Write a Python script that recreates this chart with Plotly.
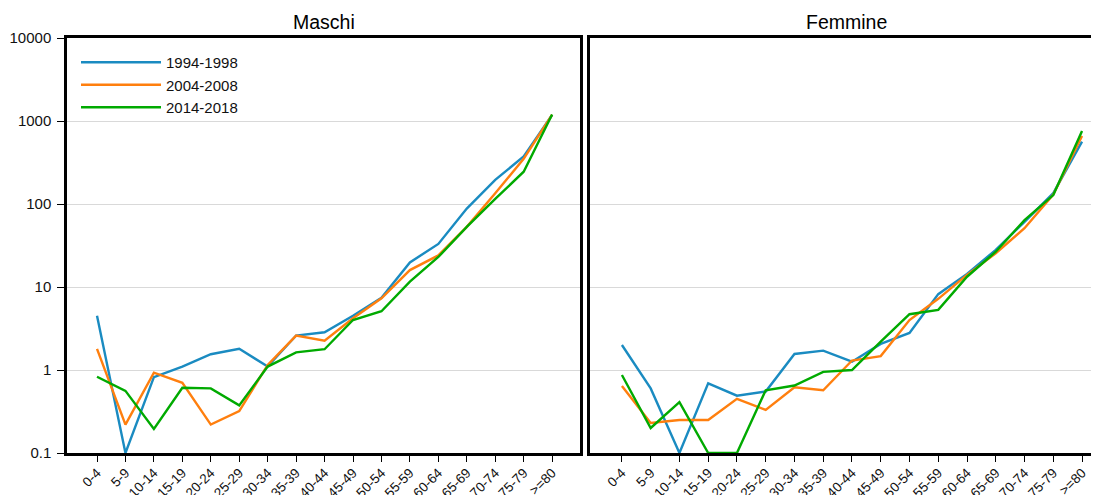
import plotly.graph_objects as go

age_groups = ["0-4", "5-9", "10-14", "15-19", "20-24", "25-29", "30-34", "35-39",
              "40-44", "45-49", "50-54", "55-59", "60-64", "65-69", "70-74", "75-79", ">=80"]
periods = ["1994-1998", "2004-2008", "2014-2018"]
colors = ["#1a8bc1", "#ff7f0e", "#00aa00"]

maschi_1994 = [4.5, 0.1, 0.82, 1.1, 1.55, 1.8, 1.1, 2.6, 2.85, 4.5, 7.4, 19.8, 33, 88, 195, 375, 1180]
maschi_2004 = [1.8, 0.22, 0.93, 0.70, 0.22, 0.32, 1.15, 2.6, 2.25, 4.2, 7.3, 16, 24, 53, 135, 350, 1190]
maschi_2014 = [0.83, 0.56, 0.195, 0.61, 0.60, 0.375, 1.1, 1.63, 1.78, 4.0, 5.1, 11.6, 23, 53, 115, 245, 1200]

femmine_1994 = [2.0, 0.6, 0.1, 0.69, 0.49, 0.55, 1.56, 1.71, 1.26, 2.06, 2.8, 8.2, 14.4, 28, 61, 135, 565]
femmine_2004 = [0.64, 0.23, 0.25, 0.25, 0.45, 0.33, 0.62, 0.57, 1.3, 1.47, 4.0, 7.2, 14, 25.5, 51, 130, 660]
femmine_2014 = [0.87, 0.2, 0.41, 0.1, 0.1, 0.57, 0.65, 0.95, 1.0, 2.2, 4.7, 5.3, 13.3, 26.6, 64, 128, 760]

y_tickvals = [0.1, 1, 10, 100, 1000, 10000]
y_ticktext = ["0.1", "1", "10", "100", "1000", "10000"]

FONT = "Liberation Sans, Arial, sans-serif"

fig = go.Figure()
xs = list(range(len(age_groups)))
for name, col, ym, yf in zip(periods, colors,
                             [maschi_1994, maschi_2004, maschi_2014],
                             [femmine_1994, femmine_2004, femmine_2014]):
    fig.add_trace(go.Scatter(x=xs, y=ym, mode="lines", name=name,
                             line=dict(color=col, width=2.4), xaxis="x", yaxis="y"))
    fig.add_trace(go.Scatter(x=xs, y=yf, mode="lines", name=name, showlegend=False,
                             line=dict(color=col, width=2.4), xaxis="x2", yaxis="y2"))

# page body has an 8px margin: figure is placed at (8, 8) in the window
OFF = 8
W, H = 1099 - OFF, 495 - OFF
L1, R1, L2, R2 = 67 - OFF, 580 - OFF, 590 - OFF, 1099 - OFF
TOP, BOT = 38 - OFF, 453 - OFF

xcommon = dict(tickmode="array", tickvals=xs, ticktext=age_groups, tickangle=-45,
               showline=True, linecolor="black", linewidth=2.5, mirror=True,
               ticks="outside", ticklen=6, tickcolor="black", tickwidth=1,
               showgrid=False, zeroline=False, automargin=False, ticklabelstandoff=-2,
               tickfont=dict(family=FONT, size=13.5, color="#111"))
ycommon = dict(type="log", range=[-1, 4], tickmode="array", tickvals=y_tickvals,
               showgrid=True, gridcolor="#d9d9d9", gridwidth=1, zeroline=False,
               showline=True, linecolor="black", linewidth=2.5, automargin=False,
               domain=[(H - BOT) / H, (H - TOP) / H])

fig.update_layout(
    template="none",
    width=W, height=H,
    margin=dict(l=0, r=0, t=0, b=0),
    paper_bgcolor="white", plot_bgcolor="white",
    font=dict(family=FONT, size=15, color="#111"),
    xaxis=dict(domain=[L1 / W, R1 / W], range=[-1.055, 16.98], anchor="y", **xcommon),
    xaxis2=dict(domain=[L2 / W, R2 / W], range=[-1.11, 16.59], anchor="y2", **xcommon),
    yaxis=dict(anchor="x", ticktext=y_ticktext, ticks="outside", ticklen=7,
               tickcolor="black", mirror=True, ticklabelstandoff=3,
               tickfont=dict(family=FONT, size=15, color="#111"), **ycommon),
    yaxis2=dict(anchor="x2", showticklabels=False, ticks="", mirror=False, **ycommon),
    legend=dict(x=(L1 + 9) / W, y=(H - TOP - 8) / H, xanchor="left", yanchor="top",
                bgcolor="rgba(0,0,0,0)", borderwidth=0,
                font=dict(family=FONT, size=15, color="#111"),
                itemwidth=80, tracegroupgap=0),
    showlegend=True,
    annotations=[
        dict(text="Maschi", x=(L1 + R1) / 2 / W, y=(H - TOP) / H, xref="paper", yref="paper",
             xanchor="center", yanchor="bottom", yshift=3, showarrow=False,
             font=dict(family=FONT, size=19.5, color="black")),
        dict(text="Femmine", x=(L2 + 1103 - OFF) / 2 / W, y=(H - TOP) / H, xref="paper", yref="paper",
             xanchor="center", yanchor="bottom", yshift=3, showarrow=False,
             font=dict(family=FONT, size=19.5, color="black")),
    ],
)

fig.write_html("out.html")
